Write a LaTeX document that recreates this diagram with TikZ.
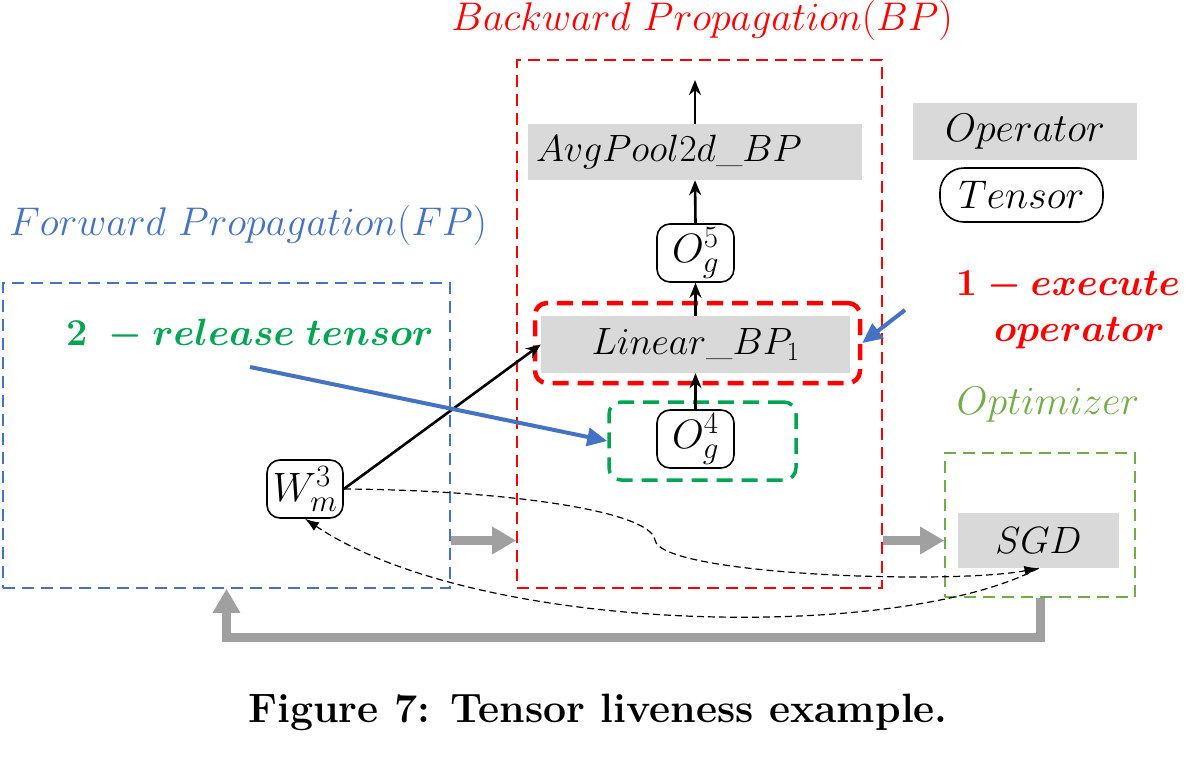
\RequirePackage{fix-cm}
\documentclass[tikz,border=0pt]{standalone}
\usepackage{amsmath}
\usetikzlibrary{arrows.meta,positioning}
\DeclareMathSizes{41}{41}{31}{22}
\definecolor{opgray}{RGB}{217,217,217}
\definecolor{fpblue}{RGB}{68,114,196}
\definecolor{bpred}{RGB}{255,0,0}
\definecolor{relgreen}{RGB}{0,166,80}
\definecolor{optgreen}{RGB}{112,173,71}
\definecolor{flowgray}{RGB}{160,160,160}

\begin{document}
\begin{tikzpicture}[
    x=1pt, y=-1pt,
    every node/.style={font=\fontsize{38}{44}\selectfont},
    op/.style={fill=opgray, inner sep=0pt},
    tensor/.style={draw=black, line width=1.6pt, rounded corners=13pt,
        inner sep=0pt, minimum width=77pt, minimum height=58pt,
        font=\fontsize{41}{44}\selectfont},
    stagebox/.style={draw, line width=1.6pt, dash pattern=on 12pt off 7pt,
        inner sep=0pt},
    focusbox/.style={draw, line width=4.5pt, dash pattern=on 16pt off 9pt,
        rounded corners=12pt, inner sep=0pt},
    titletext/.style={font=\fontsize{40}{44}\selectfont},
    steptext/.style={font=\fontsize{38}{46}\selectfont\mathversion{bold}},
    dataflow/.style={line width=2.6pt, -{Stealth[length=15pt,width=12pt]}},
    hint/.style={draw=fpblue, line width=4pt, -{Triangle[length=20pt,width=18pt]}},
    flow/.style={draw=flowgray, line width=9pt, -{Triangle[length=24pt,width=26pt]}},
    live/.style={line width=1.2pt, dash pattern=on 7pt off 4pt,
        -{Latex[length=14pt,width=10pt]}},
]
    \useasboundingbox (0,0) rectangle (1192,758);

    % Stage boxes
    \node[stagebox, draw=fpblue, minimum width=447pt, minimum height=305pt]
        (fpbox) at (226.5,435.5) {};
    \node[stagebox, draw=bpred, minimum width=365pt, minimum height=528pt]
        (bpbox) at (699.5,324) {};
    \node[stagebox, draw=optgreen, minimum width=190pt, minimum height=144pt]
        (optbox) at (1040,525) {};

    % Stage titles
    \node[titletext, text=bpred] (bptitle) at (702,20) {$Backward\ Propagation(BP)$};
    \node[titletext, text=fpblue] (fptitle) at (248,225) {$Forward\ Propagation(FP)$};
    \node[titletext, text=optgreen] (opttitle) at (1048,405) {$Optimizer$};

    % Backward operators and tensors
    \node[op, minimum width=334pt, minimum height=56pt, text width=318pt,
        align=left] (avgpool) at (695,152) {$AvgPool2d\_BP$};
    \node[tensor] (og5) at (695.5,253) {$O_g^5$};
    \node[focusbox, draw=bpred, minimum width=325pt, minimum height=80pt]
        (linbox) at (697.5,343) {};
    \node[op, minimum width=309pt, minimum height=57pt]
        (linear) at (695.5,344.5) {$Linear\_BP_1$};
    \node[focusbox, draw=relgreen, line width=3.5pt, minimum width=187pt,
        minimum height=78pt] (relbox) at (702.5,441) {};
    \node[tensor] (og4) at (695.5,439) {$O_g^4$};

    % Forward weight
    \node[tensor, minimum width=76pt] (wm3) at (305,489) {$W_m^3$};

    % Optimizer
    \node[op, minimum width=161pt, minimum height=55pt] (sgd) at (1038.5,540.5) {$SGD$};

    % Legend
    \node[op, minimum width=224pt, minimum height=57pt, titletext] (legop) at (1025,131.5) {$Operator$};
    \node[tensor, titletext, rounded corners=24pt, minimum width=163pt, minimum height=54pt]
        (legten) at (1021.5,195) {$Tensor$};

    % Steps
    \node[steptext, text=relgreen] (release) at (250,335) {$2\ -release\ tensor$};
    \node[steptext, text=bpred, align=center]
        (execute) at (1068,310) {$1-execute$\\$\ \ operator$};
    \coordinate (reltail) at (250,367);
    \coordinate (exetail) at (905,310);
    \coordinate (bpout) at (695,80);

    % Data flow
    \draw[dataflow] (avgpool.north) -- (bpout);
    \draw[dataflow] (og5.north) -- (avgpool.south);
    \draw[dataflow] (linear.north) -- (og5.south);
    \draw[dataflow] (og4.north) -- (linear.south);
    \draw[dataflow] (wm3.east) -- (linear.west);

    % Step pointers
    \draw[hint] (reltail) -- (relbox.west);
    \draw[hint] (exetail) -- (linbox.east);

    % Stage flow
    \draw[flow] (fpbox.east |- sgd) -- (bpbox.west |- sgd);
    \draw[flow] (bpbox.east |- sgd) -- (optbox.west |- sgd);
    \draw[flow] (optbox.south) -- (1040,637) -| (fpbox.south);

    % Liveness of the weight
    \draw[live] (wm3.east) .. controls (500,490) and (650,510) .. (655,540)
        .. controls (660,575) and (950,585) .. (sgd.south);
    \draw[live] (sgd.south) .. controls (900,642) and (480,636) .. (wm3.south);

    % Caption
    \node[font=\bfseries\fontsize{41}{48}\selectfont] (caption) at (598,712)
        {Figure 7: Tensor liveness example.};
\end{tikzpicture}
\end{document}
